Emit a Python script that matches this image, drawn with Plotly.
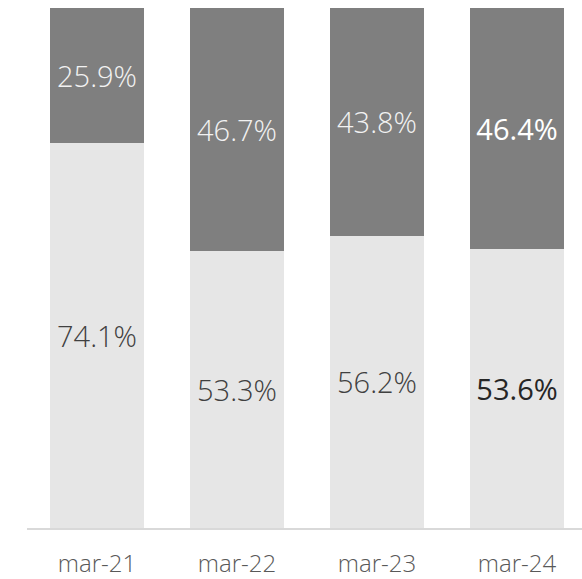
import plotly.graph_objects as go

categories = ["mar-21", "mar-22", "mar-23", "mar-24"]
bottom_vals = [74.1, 53.3, 56.2, 53.6]
top_vals = [25.9, 46.7, 43.8, 46.4]

bottom_text = [f"{v:.1f}%" for v in bottom_vals]
top_text = [f"{v:.1f}%" for v in top_vals]

FONT = "Open Sans"

fig = go.Figure()
fig.add_trace(go.Bar(
    x=categories, y=bottom_vals, text=bottom_text,
    marker=dict(color="#e6e6e6", line=dict(width=0)),
    textposition="inside", insidetextanchor="middle", textangle=0,
    textfont=dict(family=FONT, size=29,
                  color=["#404040", "#404040", "#404040", "#262626"],
                  weight=[300, 300, 300, 500]),
    hoverinfo="skip",
))
fig.add_trace(go.Bar(
    x=categories, y=top_vals, text=top_text,
    marker=dict(color="#7f7f7f", line=dict(width=0)),
    textposition="inside", insidetextanchor="middle", textangle=0,
    textfont=dict(family=FONT, size=29,
                  color=["#f2f2f2", "#f2f2f2", "#f2f2f2", "#ffffff"],
                  weight=[300, 300, 300, 500]),
    hoverinfo="skip",
))

fig.update_layout(
    barmode="stack",
    bargap=0.332,
    width=582, height=579,
    margin=dict(l=27, r=0, t=8, b=51, pad=0, autoexpand=False),
    paper_bgcolor="white", plot_bgcolor="white",
    showlegend=False,
    uniformtext=dict(mode=False),
    xaxis=dict(
        type="category", range=[-0.5, 3.464],
        showline=True, linecolor="#d9d9d9", linewidth=2,
        showgrid=False, ticks="", zeroline=False, automargin=False,
        tickfont=dict(family=FONT, size=24, color="#595959", weight=300),
        ticklabelstandoff=13,
    ),
    yaxis=dict(range=[0, 100], visible=False, showgrid=False, zeroline=False,
               automargin=False),
)

fig.write_html(
    "out.html",
    config={"displayModeBar": False},
    post_script="document.body.style.margin='0';document.body.style.overflow='hidden';",
)
